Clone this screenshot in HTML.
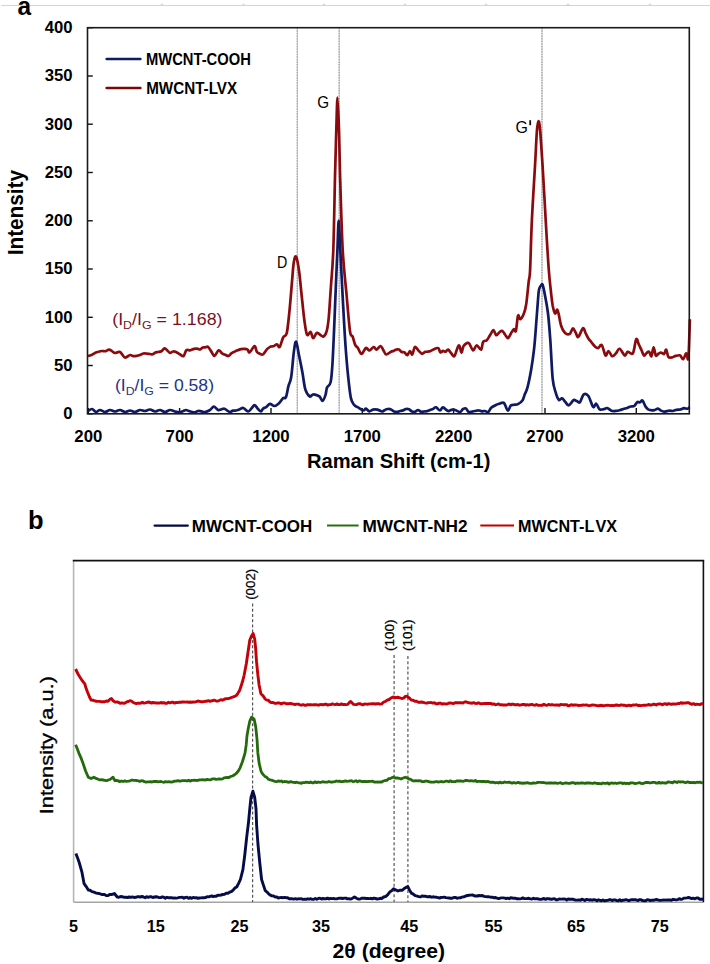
<!DOCTYPE html>
<html><head><meta charset="utf-8"><style>
html,body{margin:0;padding:0;background:#fff;}
svg{display:block;}
text{font-family:"Liberation Sans",sans-serif;}
</style></head><body>
<svg width="710" height="964" viewBox="0 0 710 964">
<rect width="710" height="964" fill="#fff"/>
<line x1="1.2" y1="5.5" x2="710" y2="5.5" stroke="#d4d4d4" stroke-width="1"/>
<path d="M160.5,5.5 L162.0,3.8 L163.5,5.5" fill="none" stroke="#d0d0d0" stroke-width="1"/>
<path d="M242.0,5.5 L243.5,3.8 L245.0,5.5" fill="none" stroke="#d0d0d0" stroke-width="1"/>
<path d="M322.5,5.5 L324.0,3.8 L325.5,5.5" fill="none" stroke="#d0d0d0" stroke-width="1"/>
<path d="M403.5,5.5 L405.0,3.8 L406.5,5.5" fill="none" stroke="#d0d0d0" stroke-width="1"/>
<path d="M484.5,5.5 L486.0,3.8 L487.5,5.5" fill="none" stroke="#d0d0d0" stroke-width="1"/>
<path d="M566.5,5.5 L568.0,3.8 L569.5,5.5" fill="none" stroke="#d0d0d0" stroke-width="1"/>
<path d="M648.5,5.5 L650.0,3.8 L651.5,5.5" fill="none" stroke="#d0d0d0" stroke-width="1"/>
<text x="17.6" y="14.6" font-size="26.0" font-weight="bold" text-anchor="start" fill="#000" textLength="13.6" lengthAdjust="spacingAndGlyphs" >a</text>
<line x1="297.3" y1="27.7" x2="297.3" y2="413.8" stroke="#d2d2d2" stroke-width="1.3"/>
<line x1="297.3" y1="27.7" x2="297.3" y2="413.8" stroke="#a2a2a2" stroke-width="1.2" stroke-dasharray="1.4,1.2"/>
<line x1="339.2" y1="27.7" x2="339.2" y2="413.8" stroke="#d2d2d2" stroke-width="1.3"/>
<line x1="339.2" y1="27.7" x2="339.2" y2="413.8" stroke="#a2a2a2" stroke-width="1.2" stroke-dasharray="1.4,1.2"/>
<line x1="542.0" y1="27.7" x2="542.0" y2="413.8" stroke="#d2d2d2" stroke-width="1.3"/>
<line x1="542.0" y1="27.7" x2="542.0" y2="413.8" stroke="#a2a2a2" stroke-width="1.2" stroke-dasharray="1.4,1.2"/>
<text x="72.6" y="419.1" font-size="16.7" font-weight="bold" text-anchor="end" fill="#000" >0</text>
<line x1="87.5" y1="413.8" x2="92.8" y2="413.8" stroke="#111" stroke-width="1.4"/>
<text x="72.6" y="370.8" font-size="16.7" font-weight="bold" text-anchor="end" fill="#000" >50</text>
<line x1="87.5" y1="365.5" x2="92.8" y2="365.5" stroke="#111" stroke-width="1.4"/>
<text x="72.6" y="322.6" font-size="16.7" font-weight="bold" text-anchor="end" fill="#000" >100</text>
<line x1="87.5" y1="317.3" x2="92.8" y2="317.3" stroke="#111" stroke-width="1.4"/>
<text x="72.6" y="274.3" font-size="16.7" font-weight="bold" text-anchor="end" fill="#000" >150</text>
<line x1="87.5" y1="269.0" x2="92.8" y2="269.0" stroke="#111" stroke-width="1.4"/>
<text x="72.6" y="226.1" font-size="16.7" font-weight="bold" text-anchor="end" fill="#000" >200</text>
<line x1="87.5" y1="220.8" x2="92.8" y2="220.8" stroke="#111" stroke-width="1.4"/>
<text x="72.6" y="177.8" font-size="16.7" font-weight="bold" text-anchor="end" fill="#000" >250</text>
<line x1="87.5" y1="172.5" x2="92.8" y2="172.5" stroke="#111" stroke-width="1.4"/>
<text x="72.6" y="129.5" font-size="16.7" font-weight="bold" text-anchor="end" fill="#000" >300</text>
<line x1="87.5" y1="124.2" x2="92.8" y2="124.2" stroke="#111" stroke-width="1.4"/>
<text x="72.6" y="81.3" font-size="16.7" font-weight="bold" text-anchor="end" fill="#000" >350</text>
<line x1="87.5" y1="76.0" x2="92.8" y2="76.0" stroke="#111" stroke-width="1.4"/>
<text x="72.6" y="33.0" font-size="16.7" font-weight="bold" text-anchor="end" fill="#000" >400</text>
<line x1="87.5" y1="27.7" x2="92.8" y2="27.7" stroke="#111" stroke-width="1.4"/>
<text x="88.3" y="442.1" font-size="16.8" font-weight="bold" text-anchor="middle" fill="#000" >200</text>
<line x1="88.3" y1="413.8" x2="88.3" y2="408" stroke="#111" stroke-width="1.4"/>
<text x="179.6" y="442.1" font-size="16.8" font-weight="bold" text-anchor="middle" fill="#000" >700</text>
<line x1="179.6" y1="413.8" x2="179.6" y2="408" stroke="#111" stroke-width="1.4"/>
<text x="271.0" y="442.1" font-size="16.8" font-weight="bold" text-anchor="middle" fill="#000" >1200</text>
<line x1="271.0" y1="413.8" x2="271.0" y2="408" stroke="#111" stroke-width="1.4"/>
<text x="362.3" y="442.1" font-size="16.8" font-weight="bold" text-anchor="middle" fill="#000" >1700</text>
<line x1="362.3" y1="413.8" x2="362.3" y2="408" stroke="#111" stroke-width="1.4"/>
<text x="453.6" y="442.1" font-size="16.8" font-weight="bold" text-anchor="middle" fill="#000" >2200</text>
<line x1="453.6" y1="413.8" x2="453.6" y2="408" stroke="#111" stroke-width="1.4"/>
<text x="545.0" y="442.1" font-size="16.8" font-weight="bold" text-anchor="middle" fill="#000" >2700</text>
<line x1="545.0" y1="413.8" x2="545.0" y2="408" stroke="#111" stroke-width="1.4"/>
<text x="636.3" y="442.1" font-size="16.8" font-weight="bold" text-anchor="middle" fill="#000" >3200</text>
<line x1="636.3" y1="413.8" x2="636.3" y2="408" stroke="#111" stroke-width="1.4"/>
<path d="M88.0,411.0 C88.7,410.7 90.7,408.8 92.0,409.0 C93.3,409.2 94.7,411.8 96.0,412.0 C97.3,412.2 98.5,410.0 100.0,410.0 C101.5,410.0 103.3,412.0 105.0,412.0 C106.7,412.0 108.3,410.1 110.0,410.0 C111.7,409.9 113.3,411.5 115.0,411.5 C116.7,411.5 118.3,409.9 120.0,410.0 C121.7,410.1 123.3,411.9 125.0,412.0 C126.7,412.1 128.3,410.5 130.0,410.5 C131.7,410.5 133.3,412.1 135.0,412.0 C136.7,411.9 138.3,410.2 140.0,410.0 C141.7,409.8 143.3,411.1 145.0,411.0 C146.7,410.9 148.3,409.4 150.0,409.5 C151.7,409.6 153.3,411.4 155.0,411.5 C156.7,411.6 158.3,409.9 160.0,410.0 C161.7,410.1 163.3,412.0 165.0,412.0 C166.7,412.0 168.3,410.1 170.0,410.0 C171.7,409.9 173.3,411.1 175.0,411.5 C176.7,411.9 178.7,412.4 180.0,412.3 C181.3,412.2 182.0,411.4 183.0,411.1 C184.0,410.7 185.0,410.0 186.0,410.0 C187.0,410.0 188.0,410.8 189.0,411.1 C190.0,411.5 191.0,411.8 192.0,412.0 C193.0,412.2 194.0,412.5 195.0,412.3 C196.0,412.2 196.9,411.2 198.0,411.0 C199.1,410.8 200.3,411.3 201.5,411.4 C202.7,411.6 203.6,412.2 205.0,412.0 C206.4,411.8 208.5,410.9 210.0,410.0 C211.5,409.1 212.5,406.6 213.8,406.6 C215.1,406.6 216.8,409.5 218.0,410.0 C219.2,410.5 220.1,409.6 221.2,409.4 C222.3,409.1 223.4,408.5 224.4,408.7 C225.4,408.9 226.3,410.0 227.2,410.5 C228.1,411.1 229.0,412.0 230.0,412.0 C231.0,412.0 232.0,410.9 233.0,410.6 C234.0,410.4 234.9,410.7 236.0,410.5 C237.1,410.3 238.5,409.7 239.7,409.3 C240.9,408.9 242.0,407.6 243.4,408.0 C244.8,408.4 246.7,411.4 248.0,411.5 C249.3,411.6 250.2,409.7 251.3,408.6 C252.4,407.6 253.5,405.1 254.6,405.2 C255.7,405.3 256.9,407.9 258.0,409.0 C259.1,410.1 260.2,411.6 261.0,411.5 C261.8,411.4 262.1,409.5 263.0,408.7 C263.9,407.9 265.3,407.7 266.5,406.8 C267.7,406.0 268.7,403.9 270.0,403.8 C271.3,403.7 272.9,406.1 274.4,406.0 C275.9,405.9 277.3,404.7 278.8,403.4 C280.3,402.1 282.0,399.0 283.2,398.0 C284.4,397.0 285.0,399.3 285.9,397.3 C286.8,395.3 287.6,389.2 288.5,385.8 C289.4,382.4 290.3,382.6 291.2,377.0 C292.1,371.4 293.0,358.2 293.8,352.3 C294.6,346.4 295.2,341.1 296.1,341.7 C297.0,342.3 298.0,350.5 299.1,355.8 C300.2,361.1 301.6,367.9 302.6,373.5 C303.6,379.1 304.1,385.5 305.3,389.3 C306.5,393.1 308.5,395.5 309.7,396.4 C310.9,397.3 311.5,395.0 312.4,394.7 C313.2,394.4 313.8,394.3 315.0,394.6 C316.2,394.9 318.1,395.4 319.4,396.4 C320.7,397.4 321.6,401.1 322.6,400.8 C323.6,400.5 324.9,396.8 325.6,394.6 C326.3,392.4 326.2,389.7 327.0,387.6 C327.8,385.6 329.7,386.1 330.6,382.3 C331.5,378.5 331.8,373.4 332.4,364.6 C333.0,355.8 333.5,342.6 334.1,329.4 C334.7,316.2 335.3,298.5 335.9,285.3 C336.4,272.1 336.9,260.8 337.4,250.0 C337.9,239.2 338.2,220.5 338.7,220.5 C339.2,220.5 339.6,236.3 340.3,250.0 C341.0,263.7 342.1,286.7 343.0,302.9 C343.9,319.1 344.7,334.6 345.6,347.0 C346.5,359.4 347.3,368.5 348.2,377.0 C349.1,385.5 349.9,393.4 350.9,398.1 C351.9,402.8 353.1,403.6 354.4,405.2 C355.7,406.8 357.3,406.9 358.8,407.8 C360.3,408.7 362.0,410.4 363.2,410.5 C364.4,410.6 364.9,408.6 365.9,408.7 C366.9,408.8 368.2,411.2 369.4,411.4 C370.6,411.5 371.6,409.9 372.9,409.6 C374.2,409.3 375.8,409.3 377.3,409.6 C378.8,409.9 380.7,411.5 382.0,411.5 C383.3,411.5 384.0,410.3 385.0,409.9 C386.0,409.4 387.0,409.1 388.0,409.0 C389.0,408.9 390.0,409.0 391.0,409.4 C392.0,409.8 393.0,411.1 394.0,411.5 C395.0,411.9 396.0,412.0 397.0,411.9 C398.0,411.8 399.0,411.2 400.0,411.0 C401.0,410.8 402.0,410.7 403.0,410.4 C404.0,410.1 405.0,409.2 406.0,409.0 C407.0,408.8 408.0,408.9 409.0,409.3 C410.0,409.8 411.0,411.1 412.0,411.5 C413.0,411.9 414.0,412.0 415.0,411.7 C416.0,411.5 417.0,410.0 418.0,410.0 C419.0,410.0 420.0,411.4 421.0,411.7 C422.0,411.9 423.0,411.6 424.0,411.5 C425.0,411.4 426.0,411.3 427.0,411.1 C428.0,410.8 429.0,410.4 430.0,410.0 C431.0,409.6 432.0,409.3 433.0,408.9 C434.0,408.4 434.8,407.0 436.0,407.3 C437.2,407.6 438.8,410.5 440.0,410.5 C441.2,410.5 441.7,407.2 443.0,407.3 C444.3,407.4 446.6,410.6 448.0,411.0 C449.4,411.4 450.3,410.0 451.5,409.8 C452.7,409.6 453.6,409.6 455.0,410.0 C456.4,410.4 458.7,412.1 460.0,412.0 C461.3,411.9 461.9,409.8 462.9,409.2 C463.9,408.6 464.8,407.9 465.8,408.4 C466.8,408.9 467.7,411.5 468.7,412.0 C469.7,412.5 470.8,411.7 471.9,411.6 C472.9,411.4 473.9,411.2 475.0,411.0 C476.1,410.8 477.3,410.2 478.4,410.3 C479.5,410.3 480.7,411.2 481.8,411.3 C482.9,411.4 484.0,410.9 485.1,411.0 C486.1,411.1 487.3,412.6 488.3,412.0 C489.3,411.4 489.9,408.9 491.2,407.7 C492.5,406.5 495.0,405.4 496.3,404.8 C497.6,404.2 498.1,404.1 499.0,403.8 C499.9,403.5 500.7,403.0 501.6,402.9 C502.5,402.9 503.3,402.1 504.3,403.4 C505.3,404.7 506.8,410.2 507.9,410.6 C509.0,411.0 509.7,406.5 510.8,405.5 C511.9,404.5 513.2,405.0 514.4,404.7 C515.6,404.5 516.7,404.8 518.0,404.1 C519.3,403.4 521.3,402.1 522.4,400.5 C523.5,398.9 523.8,396.9 524.6,394.7 C525.5,392.5 526.4,391.5 527.5,387.4 C528.6,383.3 530.0,376.3 531.1,370.0 C532.2,363.7 533.1,357.4 534.0,349.7 C534.9,341.9 535.5,332.7 536.2,323.5 C536.9,314.3 537.9,300.4 538.4,294.5 C538.9,288.6 539.1,289.5 539.5,288.0 C539.9,286.5 540.5,286.0 541.0,285.5 C541.5,285.0 542.0,283.2 542.6,284.8 C543.2,286.4 544.0,290.1 544.9,294.9 C545.8,299.7 547.1,306.0 548.0,313.5 C548.9,321.0 549.5,329.1 550.3,340.0 C551.1,350.9 551.8,370.1 552.7,378.9 C553.6,387.7 554.8,389.4 555.8,392.9 C556.8,396.4 557.9,399.0 558.9,399.9 C559.9,400.8 561.0,398.0 562.0,398.3 C563.0,398.6 564.1,400.5 565.1,401.7 C566.1,402.8 567.2,405.0 568.2,405.3 C569.2,405.6 570.0,404.2 571.0,403.3 C571.9,402.4 572.7,400.3 573.7,399.9 C574.7,399.5 575.8,400.7 576.8,401.1 C577.8,401.5 578.7,403.3 579.9,402.2 C581.1,401.1 582.4,395.4 583.8,394.4 C585.2,393.4 586.8,393.9 588.4,396.0 C590.0,398.1 591.8,405.6 593.1,406.9 C594.4,408.2 595.2,403.3 596.2,403.7 C597.2,404.1 598.4,408.2 599.3,409.2 C600.2,410.2 600.9,409.5 601.8,409.5 C602.6,409.5 603.5,409.3 604.4,409.0 C605.3,408.8 606.1,407.9 607.0,408.0 C607.9,408.1 608.7,409.0 609.6,409.5 C610.5,410.0 611.2,410.8 612.2,411.0 C613.2,411.2 614.7,411.1 615.9,410.9 C617.1,410.8 618.4,410.5 619.6,410.2 C620.8,409.9 622.1,409.4 623.3,409.0 C624.5,408.6 625.8,408.4 627.0,408.0 C628.2,407.6 629.5,406.8 630.7,406.5 C631.9,406.1 633.3,406.5 634.4,405.8 C635.5,405.1 636.4,402.7 637.3,402.1 C638.2,401.5 639.0,402.6 639.9,402.3 C640.8,402.1 641.6,399.9 642.5,400.6 C643.4,401.3 644.6,405.0 645.5,406.5 C646.4,408.0 647.2,408.7 648.1,409.3 C649.0,410.0 649.7,410.1 650.7,410.2 C651.7,410.3 653.1,410.4 654.4,410.1 C655.6,409.9 656.9,408.6 658.0,408.7 C659.1,408.8 660.0,410.1 661.0,410.6 C662.0,411.1 663.0,411.6 664.0,411.7 C665.0,411.8 666.0,411.3 666.9,411.1 C667.9,410.9 668.9,410.7 669.9,410.7 C670.8,410.7 671.7,411.1 672.8,411.0 C673.9,410.9 675.3,410.1 676.5,409.8 C677.7,409.6 679.0,409.8 680.2,409.5 C681.4,409.2 682.7,408.4 683.9,408.2 C685.1,408.1 686.7,408.9 687.6,408.7 C688.5,408.5 689.2,407.3 689.5,407.0" fill="none" stroke="#0f1a62" stroke-width="2.7" stroke-linejoin="round"/>
<path d="M88.0,356.0 C88.6,355.9 90.3,355.6 91.5,355.1 C92.7,354.6 93.8,353.6 95.0,353.0 C96.2,352.4 97.3,352.1 98.5,351.8 C99.7,351.4 100.8,351.1 102.0,351.0 C103.2,350.9 104.3,351.4 105.5,351.2 C106.7,351.0 107.9,349.7 109.0,349.7 C110.1,349.7 111.0,350.5 112.0,351.1 C113.0,351.6 113.7,352.8 115.0,353.0 C116.3,353.2 118.3,351.2 120.0,352.0 C121.7,352.8 123.3,357.0 125.0,357.5 C126.7,358.0 128.6,355.2 130.0,355.0 C131.4,354.8 132.2,356.0 133.3,356.1 C134.4,356.2 135.6,356.0 136.7,355.8 C137.8,355.7 138.9,355.4 140.0,355.0 C141.1,354.6 142.2,353.7 143.3,353.5 C144.4,353.2 145.6,353.5 146.7,353.6 C147.8,353.7 149.0,353.9 150.0,354.0 C151.0,354.1 151.8,354.6 152.7,354.3 C153.6,354.1 154.4,353.0 155.3,352.6 C156.2,352.2 157.0,352.2 158.0,352.0 C159.0,351.8 160.2,351.9 161.3,351.3 C162.4,350.7 163.6,348.4 164.6,348.3 C165.6,348.2 166.4,349.6 167.3,350.4 C168.2,351.2 169.1,352.8 170.0,353.0 C170.9,353.2 172.0,351.6 173.0,351.5 C174.0,351.3 174.9,351.5 176.0,352.0 C177.1,352.5 178.5,353.6 179.8,354.3 C181.1,355.0 182.5,356.7 183.6,356.0 C184.7,355.3 185.2,351.3 186.3,350.3 C187.4,349.3 188.9,350.5 190.2,350.3 C191.4,350.0 192.9,349.2 194.0,348.9 C195.1,348.6 196.0,348.5 197.0,348.6 C198.0,348.7 199.1,349.7 200.0,349.5 C200.9,349.3 201.8,348.0 202.7,347.6 C203.6,347.2 204.4,347.4 205.3,347.3 C206.2,347.2 207.0,346.1 208.0,346.8 C209.0,347.5 210.2,349.9 211.2,351.4 C212.3,352.9 213.3,356.2 214.5,356.0 C215.7,355.8 217.4,350.7 218.7,350.3 C219.9,349.9 220.9,352.6 222.0,353.3 C223.1,354.1 224.2,354.3 225.3,354.7 C226.4,355.2 227.5,356.3 228.6,356.0 C229.7,355.7 230.6,353.9 231.6,353.2 C232.6,352.4 233.7,352.1 234.7,351.6 C235.7,351.1 236.6,350.7 237.7,350.3 C238.8,349.9 239.9,349.4 241.0,349.1 C242.1,348.9 243.2,348.7 244.3,348.8 C245.4,348.9 246.7,349.0 247.6,349.6 C248.5,350.2 248.5,353.0 249.7,352.4 C250.9,351.8 253.4,346.1 254.6,346.0 C255.8,345.9 255.9,350.4 256.8,351.7 C257.7,353.0 258.9,353.3 259.9,353.8 C260.9,354.3 261.8,355.3 263.0,354.5 C264.2,353.7 266.0,350.2 267.3,348.9 C268.6,347.6 269.5,347.1 270.5,346.6 C271.6,346.2 272.7,346.4 273.8,346.0 C274.8,345.7 276.0,344.2 277.0,344.4 C278.0,344.6 278.7,348.2 279.7,347.0 C280.7,345.8 282.0,339.7 283.2,337.3 C284.4,334.9 285.8,337.2 286.8,332.9 C287.8,328.6 288.5,320.2 289.4,311.7 C290.3,303.2 291.3,289.9 292.0,281.7 C292.7,273.5 293.1,266.5 293.8,262.3 C294.5,258.1 295.2,255.2 296.1,256.7 C297.0,258.2 298.2,264.7 299.1,271.2 C300.0,277.7 300.8,287.7 301.7,295.9 C302.6,304.1 303.5,314.0 304.4,320.5 C305.3,327.0 306.0,332.8 307.0,334.7 C308.0,336.6 309.6,331.4 310.6,332.0 C311.6,332.6 312.2,338.1 313.2,338.2 C314.2,338.3 315.6,333.5 316.7,332.9 C317.8,332.3 318.9,334.1 320.0,334.7 C321.1,335.3 322.4,337.1 323.5,336.5 C324.6,335.9 325.8,334.4 326.7,331.2 C327.6,327.9 328.1,324.6 328.8,317.0 C329.5,309.4 330.2,296.5 331.0,285.3 C331.8,274.1 332.6,268.7 333.3,250.0 C334.0,231.3 334.6,193.0 335.1,173.0 C335.6,153.0 335.9,142.6 336.3,130.0 C336.7,117.4 337.1,97.5 337.5,97.5 C337.9,97.5 338.6,117.4 339.0,130.0 C339.4,142.6 339.4,153.0 340.0,173.0 C340.6,193.0 341.6,229.8 342.7,250.0 C343.8,270.2 345.3,280.5 346.5,294.0 C347.7,307.5 349.0,324.1 350.0,331.2 C351.0,338.3 351.7,334.2 352.6,336.5 C353.5,338.8 354.4,343.3 355.3,345.2 C356.2,347.1 356.9,346.4 357.9,347.9 C358.9,349.4 360.2,354.0 361.5,354.0 C362.8,354.0 364.6,348.5 365.9,347.9 C367.2,347.3 368.1,350.6 369.4,350.5 C370.7,350.4 372.6,347.1 373.8,347.0 C375.0,346.9 375.4,349.8 376.5,349.6 C377.6,349.4 379.5,345.9 380.6,346.0 C381.8,346.1 382.5,348.8 383.4,350.2 C384.3,351.7 384.9,354.3 386.2,354.5 C387.5,354.7 389.8,352.3 391.0,351.7 C392.2,351.1 392.8,351.2 393.6,350.9 C394.5,350.5 395.4,349.8 396.3,349.6 C397.1,349.3 398.0,349.2 398.9,349.6 C399.8,350.0 400.8,351.5 401.7,352.0 C402.6,352.5 403.6,351.9 404.5,352.4 C405.4,353.0 406.4,355.4 407.3,355.2 C408.2,355.0 409.2,351.1 410.0,351.0 C410.8,350.9 411.5,355.2 412.3,354.5 C413.1,353.8 414.0,347.4 415.0,346.8 C416.0,346.2 417.3,349.5 418.5,350.6 C419.7,351.8 420.9,353.6 422.0,353.8 C423.1,354.0 423.9,352.3 424.9,351.9 C425.8,351.6 426.8,351.9 427.7,351.7 C428.7,351.6 429.5,351.5 430.6,351.0 C431.7,350.5 433.2,349.4 434.5,348.9 C435.7,348.4 437.3,347.6 438.3,348.2 C439.3,348.8 439.6,351.9 440.4,352.4 C441.2,352.9 442.1,351.0 443.0,350.9 C443.9,350.8 444.7,351.9 445.6,351.7 C446.5,351.4 447.2,349.3 448.2,349.6 C449.2,349.9 450.3,352.4 451.4,353.5 C452.4,354.5 453.3,357.2 454.5,355.9 C455.7,354.6 457.5,345.9 458.7,345.4 C459.9,344.8 460.7,352.5 461.5,352.6 C462.3,352.7 462.4,347.6 463.6,346.0 C464.8,344.4 467.1,342.4 468.7,343.1 C470.3,343.8 471.7,350.0 473.0,350.4 C474.3,350.8 475.4,345.4 476.7,345.3 C478.0,345.2 479.9,350.3 481.0,349.7 C482.1,349.1 482.2,343.3 483.2,341.7 C484.2,340.1 485.6,341.3 486.8,340.2 C488.0,339.1 489.0,336.8 490.1,335.1 C491.2,333.5 492.4,330.1 493.4,330.1 C494.4,330.1 495.3,334.8 496.3,335.2 C497.3,335.6 498.2,333.3 499.2,332.5 C500.2,331.8 501.1,330.5 502.1,330.8 C503.1,331.1 504.0,333.2 505.0,334.5 C506.0,335.7 506.9,338.2 507.9,338.1 C508.9,338.0 509.8,335.2 510.8,333.7 C511.8,332.2 512.9,329.8 513.7,329.3 C514.6,328.8 515.2,333.1 515.9,330.8 C516.6,328.5 517.3,317.5 518.0,315.6 C518.7,313.7 519.2,319.6 520.2,319.2 C521.2,318.8 522.9,315.9 523.9,313.4 C524.9,310.9 525.4,309.4 526.2,304.2 C527.0,299.0 528.0,288.1 528.6,282.4 C529.2,276.7 529.6,280.1 530.1,270.0 C530.6,259.9 531.0,239.3 531.8,222.0 C532.6,204.7 534.1,181.2 535.0,166.0 C535.9,150.8 536.3,138.4 536.9,131.0 C537.5,123.5 537.9,121.6 538.4,121.3 C538.9,121.0 539.3,121.5 540.0,129.0 C540.7,136.4 541.6,150.5 542.6,166.0 C543.6,181.5 544.8,204.7 545.8,222.0 C546.8,239.3 547.9,258.1 548.8,270.0 C549.7,281.9 550.5,287.3 551.1,293.3 C551.8,299.3 552.1,302.4 552.7,305.8 C553.4,309.2 554.2,312.9 555.0,313.5 C555.8,314.1 556.6,309.4 557.3,309.7 C557.9,310.0 558.2,312.4 558.9,315.1 C559.5,317.8 560.2,323.0 561.2,326.0 C562.2,329.0 563.7,331.7 565.1,333.0 C566.5,334.3 568.5,334.6 569.8,333.8 C571.1,333.0 571.9,328.5 572.9,328.3 C573.9,328.1 574.7,331.2 575.6,332.6 C576.5,334.0 577.1,337.6 578.3,336.9 C579.5,336.2 581.8,328.9 583.0,328.3 C584.2,327.7 584.8,331.7 585.7,333.4 C586.6,335.0 587.4,336.9 588.4,338.4 C589.4,339.9 590.5,341.0 591.5,342.3 C592.6,343.6 593.6,345.2 594.7,346.2 C595.8,347.2 596.9,348.3 598.1,348.1 C599.3,347.9 600.6,343.9 601.8,345.1 C603.0,346.3 604.4,354.5 605.5,355.5 C606.6,356.5 607.4,350.9 608.5,351.0 C609.6,351.1 611.0,355.8 612.2,356.2 C613.4,356.6 614.7,354.7 615.9,353.4 C617.1,352.2 618.1,348.5 619.6,348.8 C621.1,349.1 623.4,355.0 624.8,355.5 C626.1,356.0 626.4,352.2 627.7,351.8 C629.1,351.4 631.5,355.4 632.9,353.3 C634.3,351.2 635.2,340.7 636.2,339.2 C637.2,337.7 637.9,342.6 638.8,344.4 C639.7,346.2 640.5,348.1 641.4,349.9 C642.3,351.8 643.1,355.0 644.0,355.5 C644.9,356.0 645.7,353.6 646.6,353.0 C647.5,352.3 648.4,351.3 649.2,351.8 C650.0,352.3 650.7,356.9 651.4,356.2 C652.1,355.4 652.9,347.4 653.6,347.3 C654.3,347.2 655.0,354.4 655.8,355.5 C656.6,356.6 657.5,354.2 658.4,353.7 C659.3,353.2 660.1,352.5 661.0,352.5 C661.9,352.5 663.1,354.5 664.0,354.0 C664.9,353.5 665.5,349.1 666.2,349.6 C666.9,350.1 667.4,355.7 668.4,357.0 C669.4,358.3 670.9,357.5 672.1,357.3 C673.3,357.1 674.4,356.2 675.8,355.9 C677.1,355.6 679.0,354.9 680.2,355.5 C681.4,356.1 682.2,359.6 683.2,359.2 C684.2,358.8 685.3,353.6 686.2,353.3 C687.1,353.1 687.8,363.4 688.4,357.7 C689.0,352.0 689.6,325.6 689.9,319.2" fill="none" stroke="#8a0a0e" stroke-width="2.7" stroke-linejoin="round"/>
<rect x="87.5" y="27.7" width="601.8" height="386.1" fill="none" stroke="#1a1a1a" stroke-width="1.6"/>
<line x1="106.6" y1="58.9" x2="140.4" y2="58.9" stroke="#0f1a62" stroke-width="2.5" stroke-linecap="round"/>
<line x1="106.6" y1="88.0" x2="140.4" y2="88.0" stroke="#7a0606" stroke-width="2.5" stroke-linecap="round"/>
<text x="146.0" y="64.7" font-size="15.6" font-weight="bold" text-anchor="start" fill="#000" textLength="104.8" lengthAdjust="spacingAndGlyphs" >MWCNT-COOH</text>
<text x="146.2" y="93.5" font-size="15.6" font-weight="bold" text-anchor="start" fill="#000" textLength="90.9" lengthAdjust="spacingAndGlyphs" >MWCNT-LVX</text>
<text x="277.0" y="268.4" font-size="15.8" font-weight="normal" text-anchor="start" fill="#000" textLength="10.3" lengthAdjust="spacingAndGlyphs" >D</text>
<text x="317.3" y="107.9" font-size="15.8" font-weight="normal" text-anchor="start" fill="#000" textLength="11.8" lengthAdjust="spacingAndGlyphs" >G</text>
<text x="515.6" y="133.2" font-size="16.2" font-weight="normal" text-anchor="start" fill="#000" textLength="12.4" lengthAdjust="spacingAndGlyphs" >G</text>
<rect x="529.3" y="120.2" width="1.8" height="5.0" fill="#111"/>
<text x="112.2" y="325.0" font-size="17" fill="#7c1020" textLength="110.3" lengthAdjust="spacingAndGlyphs">(I<tspan font-size="11.8" dy="4.3">D</tspan><tspan dy="-4.3">/I</tspan><tspan font-size="11.8" dy="4.3">G</tspan><tspan dy="-4.3"> = 1.168)</tspan></text>
<text x="115.0" y="391.0" font-size="17" fill="#1e3488" textLength="99.0" lengthAdjust="spacingAndGlyphs">(I<tspan font-size="11.8" dy="4.3">D</tspan><tspan dy="-4.3">/I</tspan><tspan font-size="11.8" dy="4.3">G</tspan><tspan dy="-4.3"> = 0.58)</tspan></text>
<text transform="translate(22.6,255.3) rotate(-90)" font-size="22.5" font-weight="bold" textLength="85.3" lengthAdjust="spacingAndGlyphs">Intensity</text>
<text x="307.0" y="467.5" font-size="19.5" font-weight="bold" text-anchor="start" fill="#000" textLength="183.4" lengthAdjust="spacingAndGlyphs" >Raman Shift (cm-1)</text>
<text x="28.0" y="528.8" font-size="25.5" font-weight="bold" text-anchor="start" fill="#000" >b</text>
<line x1="154.6" y1="525.6" x2="187.8" y2="525.6" stroke="#050a40" stroke-width="2.3" stroke-linecap="round"/>
<text x="191.8" y="532.0" font-size="16.6" font-weight="bold" text-anchor="start" fill="#000" textLength="120.5" lengthAdjust="spacingAndGlyphs" >MWCNT-COOH</text>
<line x1="327" y1="525.5" x2="358.6" y2="525.5" stroke="#2a6e10" stroke-width="2"/>
<text x="362.4" y="532.0" font-size="16.6" font-weight="bold" text-anchor="start" fill="#000" textLength="105.2" lengthAdjust="spacingAndGlyphs" >MWCNT-NH2</text>
<line x1="480.3" y1="525.5" x2="514" y2="525.5" stroke="#c00000" stroke-width="2"/>
<text x="518.0" y="532.0" font-size="16.6" font-weight="bold" text-anchor="start" fill="#000" textLength="99.1" lengthAdjust="spacingAndGlyphs" >MWCNT-L<tspan dx="2.5">VX</tspan></text>
<line x1="73.6" y1="560.6" x2="73.6" y2="902.3" stroke="#b6b6b6" stroke-width="1.6"/>
<line x1="73.6" y1="902.3" x2="703.4" y2="902.3" stroke="#a4a4a4" stroke-width="1.6"/>
<line x1="72.8" y1="560.6" x2="704.2" y2="560.6" stroke="#111" stroke-width="1.6"/>
<line x1="703.4" y1="560.6" x2="703.4" y2="902.3" stroke="#111" stroke-width="1.6"/>
<line x1="252.6" y1="603.6" x2="252.6" y2="902" stroke="#555" stroke-width="1.2" stroke-dasharray="3,2.2"/>
<line x1="394.1" y1="655" x2="394.1" y2="902" stroke="#555" stroke-width="1.2" stroke-dasharray="3,2.2"/>
<line x1="407.9" y1="656" x2="407.9" y2="902" stroke="#555" stroke-width="1.2" stroke-dasharray="3,2.2"/>
<text transform="translate(254.8,599.8) rotate(-90)" font-size="13.2" stroke="#000" stroke-width="0.25" textLength="31.0" lengthAdjust="spacingAndGlyphs">(002)</text>
<text transform="translate(393.6,651.0) rotate(-90)" font-size="13.2" stroke="#000" stroke-width="0.25" textLength="31.4" lengthAdjust="spacingAndGlyphs">(100)</text>
<text transform="translate(412.4,651.0) rotate(-90)" font-size="13.2" stroke="#000" stroke-width="0.25" textLength="31.4" lengthAdjust="spacingAndGlyphs">(101)</text>
<polyline points="75.6,669.0 78.0,674.0 80.6,678.2 82.5,681.0 84.8,683.8 86.0,688.0 87.6,692.3 89.5,697.0 91.1,700.0 93.0,700.2 95.0,701.0 96.6,701.3 98.2,701.4 99.8,701.4 101.4,701.8 103.0,701.8 104.7,701.8 106.3,701.0 108.0,701.4 109.8,699.4 111.5,698.6 113.2,700.8 115.0,702.1 116.7,702.0 118.4,702.2 120.1,703.4 121.8,702.9 123.5,703.2 125.1,703.0 126.7,701.9 128.3,701.5 129.9,700.7 131.5,701.1 133.2,702.5 134.8,703.2 136.3,703.6 137.8,703.1 139.4,703.3 140.9,703.1 142.4,702.3 143.9,703.1 145.4,702.8 147.0,702.4 148.5,702.0 150.0,702.5 151.5,703.0 153.1,702.5 154.6,702.8 156.2,703.0 157.7,702.9 159.2,703.1 160.8,702.5 162.3,703.0 163.8,702.6 165.4,703.3 166.9,703.2 168.5,702.3 170.0,702.8 171.5,702.3 173.1,702.3 174.6,703.1 176.2,702.4 177.7,702.6 179.3,702.1 180.8,702.3 182.4,702.0 183.9,701.9 185.5,702.1 187.0,702.0 188.6,702.3 190.1,702.0 191.7,702.2 193.2,702.0 194.8,702.1 196.3,701.7 197.9,701.0 199.4,701.3 200.9,701.7 202.4,701.7 204.0,701.6 205.5,701.1 207.0,701.2 208.5,700.6 210.1,701.3 211.6,700.9 213.1,700.5 214.6,700.2 216.2,701.0 217.7,701.1 219.2,700.5 220.8,699.7 222.5,700.2 224.1,699.4 225.7,698.7 227.4,698.6 229.0,698.5 231.8,697.3 234.0,696.7 236.2,695.5 237.9,693.3 239.7,690.3 242.3,682.3 244.1,675.3 246.3,663.8 248.1,651.5 249.8,640.0 251.5,636.0 253.1,633.4 254.7,639.1 255.6,647.9 256.5,661.2 257.8,674.4 259.1,685.0 260.9,693.8 263.1,695.9 265.3,699.1 266.8,700.1 268.4,700.3 269.9,702.0 271.4,702.6 273.0,702.5 274.6,703.2 276.2,703.4 277.8,702.9 279.4,703.0 281.2,703.8 282.9,703.1 284.7,703.0 286.4,703.8 288.2,703.8 289.9,703.4 291.6,703.7 293.3,704.1 294.9,704.5 296.6,704.1 298.3,704.1 300.0,704.8 301.5,705.2 303.1,704.6 304.6,705.3 306.2,705.2 307.7,704.6 309.2,704.7 310.8,704.7 312.3,704.9 313.8,704.8 315.4,704.7 316.9,704.8 318.5,705.2 320.0,704.6 321.5,704.5 323.1,704.9 324.6,704.3 326.2,704.3 327.7,705.1 329.2,704.6 330.8,704.6 332.3,703.9 333.9,704.4 335.4,704.6 336.9,703.9 338.5,704.6 340.0,704.6 341.5,703.9 343.1,704.6 344.6,704.4 346.2,704.6 347.7,704.4 349.2,702.7 350.7,701.4 353.6,704.4 355.2,704.6 356.7,704.6 358.3,703.7 359.8,703.7 361.4,704.4 363.0,704.8 364.5,703.9 366.1,704.1 367.6,704.2 369.2,703.9 370.8,703.9 372.3,703.8 373.9,703.8 375.5,704.0 377.0,703.7 378.6,703.7 380.1,704.2 381.7,703.8 383.7,702.0 385.6,701.3 387.6,700.0 389.1,699.5 390.6,698.3 392.1,697.4 393.6,697.0 395.4,697.7 397.1,697.3 398.9,697.5 400.6,698.1 402.4,698.5 403.9,697.9 405.4,696.4 406.9,696.1 409.1,697.8 411.3,700.0 413.1,700.3 414.9,701.3 416.6,701.3 418.4,702.3 420.2,702.3 421.8,702.0 423.3,702.3 424.9,702.8 426.5,703.2 428.1,702.7 429.6,702.6 431.2,702.5 432.8,703.1 434.4,702.8 435.9,703.7 437.5,703.8 439.1,703.1 440.7,703.3 442.2,704.1 443.8,703.8 445.4,703.9 447.0,704.0 448.5,703.3 450.1,703.0 451.7,703.1 453.3,703.6 454.9,702.8 456.4,702.8 458.0,702.8 459.6,702.7 461.2,702.6 462.8,703.1 464.3,702.1 465.9,701.8 467.5,702.3 469.1,702.9 470.6,703.0 472.2,703.2 473.7,702.7 475.3,703.4 476.8,703.5 478.4,702.7 479.9,703.5 481.5,703.7 483.0,703.6 484.6,703.5 486.1,703.4 487.7,703.5 489.2,703.5 490.8,703.4 492.3,704.2 493.9,703.9 495.4,704.7 497.0,704.4 498.5,703.9 500.0,704.9 501.5,704.7 503.1,705.0 504.6,705.0 506.1,705.0 507.6,704.6 509.1,704.0 510.6,704.8 512.1,704.2 513.7,704.3 515.2,704.8 516.7,704.7 518.2,704.5 519.7,705.2 521.2,704.8 522.7,704.5 524.3,704.4 525.8,705.2 527.3,704.7 528.8,705.1 530.3,704.6 531.8,704.4 533.3,704.9 534.9,705.2 536.4,704.5 537.9,705.2 539.4,705.4 540.9,705.3 542.4,705.3 543.9,704.3 545.5,705.1 547.0,705.4 548.5,704.4 550.0,705.0 551.5,704.7 553.0,704.8 554.5,705.1 556.1,705.0 557.6,705.0 559.1,705.4 560.6,704.5 562.1,704.6 563.6,704.7 565.2,704.7 566.7,704.6 568.2,705.8 569.7,705.6 571.2,704.7 572.7,705.2 574.2,705.0 575.8,705.0 577.3,705.1 578.8,705.5 580.3,705.4 581.8,705.2 583.3,705.0 584.8,705.1 586.4,704.9 587.9,705.4 589.4,705.7 590.9,705.3 592.4,704.9 593.9,705.1 595.5,705.3 597.0,705.6 598.5,705.8 600.0,705.5 601.5,705.3 603.0,705.8 604.5,705.6 606.1,705.4 607.6,705.3 609.1,705.4 610.6,705.6 612.1,705.3 613.6,705.6 615.2,705.3 616.7,705.0 618.2,705.4 619.7,705.5 621.2,704.8 622.7,705.2 624.2,705.2 625.8,705.7 627.3,705.8 628.8,705.1 630.3,705.7 631.8,705.5 633.3,704.9 634.8,705.1 636.4,704.7 637.9,705.5 639.4,705.3 640.9,705.6 642.4,705.4 643.9,705.3 645.5,705.3 647.0,705.1 648.5,704.5 650.0,705.0 651.5,705.0 653.1,704.3 654.6,704.3 656.2,705.0 657.7,704.1 659.2,704.0 660.8,704.0 662.3,704.8 663.8,703.9 665.4,703.7 666.9,704.6 668.5,703.6 670.0,704.0 671.5,704.3 673.1,704.0 674.6,704.0 676.2,704.1 677.7,703.5 679.3,703.6 680.8,702.6 682.4,703.4 683.9,702.9 685.5,703.1 687.0,702.7 688.6,702.6 690.2,703.7 691.8,704.3 693.4,703.6 695.0,704.5 696.6,704.2 698.2,704.4 699.8,704.6 701.4,703.8 703.0,704.0" fill="none" stroke="#c6000a" stroke-width="2.9" stroke-linejoin="round"/>
<polyline points="75.6,744.8 77.4,749.0 79.2,753.9 81.0,757.8 82.7,762.4 85.5,770.8 88.3,777.2 91.1,778.6 93.9,777.2 96.1,778.4 98.2,779.3 99.9,779.9 101.6,779.7 103.2,780.0 104.9,780.3 106.6,780.7 108.3,779.9 110.0,779.5 111.5,778.3 113.0,777.2 115.0,780.7 116.6,780.3 118.2,780.9 119.8,781.6 121.5,781.0 123.1,781.5 124.7,780.9 126.3,781.4 128.2,781.2 130.1,780.8 132.0,780.0 133.6,780.4 135.1,780.4 136.7,780.5 138.2,780.9 139.8,781.4 141.3,780.7 142.8,780.8 144.4,781.7 145.9,782.1 147.5,781.8 149.0,781.8 150.5,781.7 152.0,782.1 153.5,781.4 155.0,781.5 156.5,781.4 158.0,781.9 159.5,781.6 161.0,781.5 162.5,782.0 164.0,782.3 165.5,781.6 167.0,782.0 168.5,781.7 170.0,781.8 171.5,782.1 173.1,781.7 174.6,781.2 176.2,781.1 177.7,780.7 179.3,781.2 180.8,781.0 182.4,780.6 183.9,780.7 185.5,780.6 187.0,781.0 188.6,780.2 190.1,781.1 191.7,780.4 193.2,780.4 194.8,780.2 196.3,780.5 197.9,780.4 199.4,779.9 200.9,779.9 202.4,779.7 204.0,779.9 205.5,780.0 207.0,779.4 208.5,779.7 210.1,779.9 211.6,779.2 213.1,778.9 214.6,778.8 216.2,779.3 217.7,779.2 219.2,778.9 220.8,779.2 222.5,778.9 224.1,777.9 225.7,777.6 227.4,777.4 229.0,777.5 230.8,776.4 232.5,776.0 234.6,774.8 236.6,773.1 238.3,771.0 240.0,768.1 242.5,761.5 245.0,753.2 246.2,744.9 247.0,735.7 248.3,728.3 249.9,720.8 251.6,717.1 254.1,719.1 255.7,726.6 257.0,739.1 257.8,752.4 259.1,763.2 261.1,771.5 263.0,774.4 264.9,776.4 266.6,777.2 268.2,779.1 269.9,779.8 271.6,780.1 273.2,780.8 274.9,781.4 276.5,781.7 278.2,780.9 279.8,781.4 281.4,781.0 282.9,782.0 284.5,781.5 286.0,781.7 287.6,782.0 289.1,782.3 290.7,781.6 292.2,782.1 293.8,782.3 295.3,782.5 296.9,782.2 298.4,782.8 300.0,782.8 301.5,783.3 303.0,782.6 304.5,782.7 306.1,782.1 307.6,782.3 309.1,782.7 310.6,782.0 312.1,782.8 313.6,782.8 315.2,781.8 316.7,782.7 318.2,782.0 319.7,782.4 321.2,782.3 322.7,781.7 324.2,782.1 325.8,782.1 327.3,782.2 328.8,781.5 330.3,782.0 331.8,782.2 333.3,781.8 334.8,781.6 336.4,781.0 337.9,781.4 339.4,781.2 340.9,781.6 342.4,781.5 343.9,781.3 345.5,780.8 347.0,781.3 348.5,781.2 350.0,781.0 351.5,780.7 353.0,781.6 354.5,781.3 356.0,780.7 357.5,781.8 359.1,780.9 360.6,781.1 362.1,781.6 363.6,781.5 365.1,781.5 366.6,781.7 368.1,781.5 369.6,781.4 371.1,781.3 372.6,781.2 374.2,782.0 375.7,782.1 377.2,781.9 378.7,782.2 380.2,781.8 381.7,782.0 383.4,781.0 385.1,780.5 386.8,780.4 388.5,778.7 390.2,778.6 391.9,777.6 393.6,777.2 395.5,778.0 397.3,777.9 399.1,778.3 401.0,779.0 403.2,778.0 405.4,777.2 407.2,778.0 409.0,779.0 410.7,779.3 412.5,780.7 414.3,781.0 415.9,780.6 417.4,780.9 419.0,780.7 420.6,780.8 422.2,781.7 423.7,781.7 425.3,781.1 426.9,781.2 428.5,781.5 430.0,782.0 431.6,782.1 433.2,782.1 434.8,782.0 436.3,781.5 437.9,782.0 439.5,781.8 441.0,781.5 442.6,781.8 444.1,781.8 445.7,781.2 447.2,781.2 448.8,781.8 450.4,780.8 451.9,781.7 453.5,781.7 455.0,781.7 456.6,780.9 458.2,781.0 459.7,781.0 461.3,781.0 462.8,781.3 464.4,780.9 465.9,780.3 467.5,780.5 469.1,781.0 470.6,780.7 472.2,780.9 473.7,781.2 475.3,780.4 476.8,781.5 478.4,781.4 479.9,781.3 481.5,781.5 483.0,781.5 484.6,781.3 486.1,781.8 487.7,781.3 489.2,782.0 490.8,782.3 492.3,782.1 493.9,782.4 495.4,782.9 497.0,782.5 498.5,783.0 500.0,782.1 501.5,782.9 503.1,782.7 504.6,782.0 506.1,782.4 507.6,782.3 509.1,782.1 510.6,782.7 512.1,783.2 513.7,782.4 515.2,783.1 516.7,782.9 518.2,782.3 519.7,783.1 521.2,782.8 522.7,783.3 524.3,783.0 525.8,783.1 527.3,782.6 528.8,783.2 530.3,783.3 531.8,783.3 533.3,782.8 534.9,783.2 536.4,782.9 537.9,782.4 539.4,782.4 540.9,782.4 542.4,782.6 543.9,782.5 545.5,783.0 547.0,783.2 548.5,783.0 550.0,783.0 551.5,782.9 553.0,783.2 554.5,782.8 556.1,783.0 557.6,783.4 559.1,783.0 560.6,782.7 562.1,783.6 563.6,783.4 565.2,783.0 566.7,783.0 568.2,783.3 569.7,783.4 571.2,782.9 572.7,782.7 574.2,782.9 575.8,783.6 577.3,782.9 578.8,783.3 580.3,783.0 581.8,783.0 583.3,783.0 584.8,783.3 586.4,783.0 587.9,782.9 589.4,783.0 590.9,783.1 592.4,783.5 593.9,783.0 595.5,783.0 597.0,783.5 598.5,783.5 600.0,783.6 601.5,783.8 603.0,783.0 604.5,783.4 606.1,783.4 607.6,782.9 609.1,784.0 610.6,783.1 612.1,783.0 613.6,783.4 615.2,783.0 616.7,783.5 618.2,783.2 619.7,782.9 621.2,782.8 622.7,783.6 624.2,783.0 625.8,783.6 627.3,783.2 628.8,783.8 630.3,783.0 631.8,782.9 633.3,782.9 634.8,783.6 636.4,783.3 637.9,783.0 639.4,782.6 640.9,783.3 642.4,783.7 643.9,783.2 645.5,782.5 647.0,782.5 648.5,782.5 650.0,783.0 651.5,782.6 653.0,782.3 654.5,782.3 656.0,783.0 657.5,783.2 659.0,782.3 660.5,783.2 662.0,782.6 663.5,782.9 665.0,783.0 666.5,783.0 668.0,781.8 669.5,782.1 671.0,782.4 672.5,782.8 674.0,781.7 675.5,781.9 677.0,782.5 678.5,781.6 680.0,782.0 681.5,781.9 683.1,781.9 684.6,782.3 686.1,782.6 687.7,781.8 689.2,782.5 690.7,782.5 692.3,782.7 693.8,782.4 695.3,782.8 696.9,782.2 698.4,782.3 699.9,782.1 701.5,782.8 703.0,782.5" fill="none" stroke="#246a0c" stroke-width="2.8" stroke-linejoin="round"/>
<polyline points="75.9,853.4 77.6,857.9 79.2,862.5 82.0,872.4 84.1,883.7 86.2,886.6 88.3,890.0 90.2,890.3 92.0,891.7 93.9,892.1 95.7,892.8 97.5,893.4 99.2,893.5 101.0,894.2 102.8,894.5 104.5,894.5 106.2,895.5 108.0,895.6 109.6,894.5 111.2,894.5 112.8,894.3 114.4,893.5 117.2,897.0 118.9,897.2 120.6,896.5 122.3,896.7 124.1,897.4 125.8,897.2 127.5,897.5 129.2,897.0 130.8,897.4 132.4,896.9 134.0,897.5 135.6,897.3 137.2,896.8 138.8,896.8 140.4,897.0 142.0,896.5 143.5,897.0 145.1,897.7 146.6,896.7 148.2,897.3 149.7,896.8 151.3,896.8 152.9,897.5 154.4,897.0 156.0,896.8 157.5,897.0 159.1,897.6 160.7,897.6 162.2,896.9 163.8,897.2 165.3,898.2 166.9,897.3 168.4,897.7 170.0,897.7 171.5,897.6 173.1,898.1 174.6,897.9 176.2,898.1 177.7,897.8 179.3,897.4 180.8,897.4 182.4,897.3 183.9,898.2 185.5,897.4 187.0,897.3 188.6,898.4 190.1,897.5 191.7,898.4 193.2,897.4 194.8,897.9 196.3,897.6 197.9,898.4 199.4,898.0 200.9,897.9 202.4,897.8 204.0,897.7 205.5,897.6 207.0,896.8 208.5,896.9 210.1,896.5 211.6,895.9 213.1,896.6 214.6,896.1 216.2,896.2 217.7,895.2 219.2,895.4 221.0,895.0 222.7,894.5 224.5,894.4 226.2,893.1 228.0,893.2 229.8,892.1 231.7,891.3 233.4,889.8 235.0,887.9 236.7,887.0 238.6,883.3 240.4,879.5 242.9,869.6 244.8,854.7 246.7,837.2 248.5,822.3 249.8,808.6 251.0,797.4 252.9,791.2 254.7,797.4 256.0,808.6 256.6,824.8 257.9,843.5 259.7,862.1 261.6,879.5 263.5,885.4 265.3,890.7 267.0,892.1 268.6,893.8 270.3,895.1 272.0,895.9 273.6,896.0 275.3,897.0 276.9,897.0 278.4,898.0 280.0,897.6 281.5,897.5 283.1,897.7 284.6,897.4 286.2,897.7 287.7,897.7 289.2,898.7 290.8,898.6 292.3,898.8 293.8,899.1 295.4,898.7 296.9,899.2 298.5,898.8 300.0,898.9 301.5,898.8 303.1,899.4 304.6,899.3 306.1,899.4 307.6,898.8 309.2,899.2 310.7,898.7 312.2,899.4 313.8,899.3 315.3,898.5 316.8,899.3 318.4,898.4 319.9,898.3 321.4,899.0 322.9,898.5 324.5,898.7 326.0,898.9 327.5,898.1 329.1,899.0 330.6,898.4 332.1,898.6 333.6,898.5 335.2,898.9 336.7,898.9 338.2,898.4 339.8,898.1 341.3,898.3 342.8,898.5 344.4,898.1 345.9,898.1 347.4,898.9 348.9,898.8 350.5,899.1 352.0,898.5 354.5,897.0 357.0,898.5 358.5,899.1 360.1,899.0 361.6,898.3 363.2,898.1 364.7,898.3 366.3,898.5 367.8,898.5 369.4,898.6 370.9,898.3 372.4,898.9 374.0,898.2 375.5,898.5 377.1,899.0 378.6,898.9 380.2,898.3 381.7,898.5 383.7,897.0 385.6,896.5 387.6,894.9 389.1,892.8 390.6,891.4 392.1,890.3 393.6,888.7 395.8,889.9 398.0,891.0 400.2,890.2 402.4,890.2 404.2,888.5 406.0,887.4 407.8,886.6 409.6,890.2 411.3,893.1 413.3,894.1 415.2,895.7 417.2,896.1 418.8,896.6 420.4,896.9 422.0,895.9 423.6,896.2 425.2,896.1 426.8,896.7 428.3,896.7 429.9,896.5 431.5,897.2 433.1,896.8 434.7,897.1 436.3,897.2 437.9,897.6 439.5,898.0 441.1,897.5 442.7,897.4 444.3,897.1 445.9,897.6 447.5,897.9 449.0,898.0 450.6,898.3 452.2,898.2 453.8,897.5 455.4,897.4 457.0,898.2 458.6,897.9 460.4,897.8 462.2,897.0 463.9,896.9 465.7,896.0 467.5,895.5 469.1,895.2 470.8,895.1 472.4,894.9 474.1,895.7 475.7,896.0 477.4,896.0 479.0,895.5 480.7,895.7 482.3,895.5 484.0,896.4 485.7,896.6 487.4,896.7 489.0,896.8 490.7,897.2 492.4,897.2 494.1,897.9 495.6,897.5 497.1,898.2 498.6,898.6 500.1,898.1 501.7,897.9 503.2,897.9 504.7,898.1 506.2,898.5 507.7,898.1 509.2,898.7 510.7,897.8 512.2,898.0 513.7,898.3 515.3,898.2 516.8,898.8 518.3,898.8 519.8,898.9 521.3,898.6 522.8,897.9 524.3,898.6 525.8,898.6 527.3,898.5 528.8,898.3 530.4,898.9 531.9,899.1 533.4,898.2 534.9,898.9 536.4,898.6 537.9,898.8 539.4,899.3 540.9,899.4 542.4,899.0 544.0,898.5 545.5,899.4 547.0,898.6 548.5,898.8 550.0,899.0 551.5,899.4 553.0,898.9 554.5,898.8 556.1,899.7 557.6,899.7 559.1,899.0 560.6,899.1 562.1,899.1 563.6,898.9 565.2,899.1 566.7,900.0 568.2,899.0 569.7,899.2 571.2,899.2 572.7,899.1 574.2,899.7 575.8,900.0 577.3,900.1 578.8,899.9 580.3,900.2 581.8,899.2 583.3,899.6 584.8,900.5 586.4,899.4 587.9,899.7 589.4,900.0 590.9,899.8 592.4,900.2 593.9,899.6 595.5,899.9 597.0,900.8 598.5,899.8 600.0,900.3 601.5,900.8 603.0,899.9 604.6,900.9 606.1,900.5 607.6,900.4 609.1,899.8 610.7,899.7 612.2,900.6 613.7,899.9 615.2,899.9 616.7,900.6 618.3,900.7 619.8,899.7 621.3,900.8 622.8,900.2 624.3,900.1 625.9,899.7 627.4,900.1 628.9,900.8 630.4,899.9 632.0,899.7 633.5,899.7 635.0,899.7 636.5,900.0 638.0,900.6 639.6,899.6 641.1,899.8 642.6,900.6 644.1,900.7 645.7,900.7 647.2,899.8 648.7,899.9 650.2,900.6 651.7,900.1 653.3,900.3 654.8,899.8 656.3,899.5 657.8,899.9 659.3,900.3 660.9,900.4 662.4,900.1 663.9,900.0 665.4,900.1 667.0,899.9 668.5,900.0 670.0,900.0 671.5,900.2 673.1,899.3 674.6,899.6 676.2,899.9 677.7,899.6 679.2,898.6 680.8,899.4 682.3,899.1 683.8,898.1 685.4,898.1 686.9,897.9 688.5,897.5 690.0,897.9 691.6,898.6 693.2,898.1 694.9,898.8 696.5,898.0 698.1,898.0 699.8,899.2 701.4,899.2 703.0,899.0" fill="none" stroke="#060c48" stroke-width="2.9" stroke-linejoin="round"/>
<text x="73.4" y="931.8" font-size="16.2" font-weight="bold" text-anchor="middle" fill="#000" >5</text>
<text x="155.8" y="931.8" font-size="16.2" font-weight="bold" text-anchor="middle" fill="#000" >15</text>
<text x="239.6" y="931.8" font-size="16.2" font-weight="bold" text-anchor="middle" fill="#000" >25</text>
<text x="321.0" y="931.8" font-size="16.2" font-weight="bold" text-anchor="middle" fill="#000" >35</text>
<text x="409.3" y="931.8" font-size="16.2" font-weight="bold" text-anchor="middle" fill="#000" >45</text>
<text x="493.6" y="931.8" font-size="16.2" font-weight="bold" text-anchor="middle" fill="#000" >55</text>
<text x="576.0" y="931.8" font-size="16.2" font-weight="bold" text-anchor="middle" fill="#000" >65</text>
<text x="659.8" y="931.8" font-size="16.2" font-weight="bold" text-anchor="middle" fill="#000" >75</text>
<text transform="translate(52.9,814.3) rotate(-90)" font-size="18.8" stroke="#000" stroke-width="0.3" textLength="138.3" lengthAdjust="spacingAndGlyphs">Intensity (a.u.)</text>
<text x="332.6" y="957.6" font-size="20.0" font-weight="bold" text-anchor="start" fill="#000" textLength="112.4" lengthAdjust="spacingAndGlyphs" >2&#952; (degree)</text>
</svg>
</body></html>
